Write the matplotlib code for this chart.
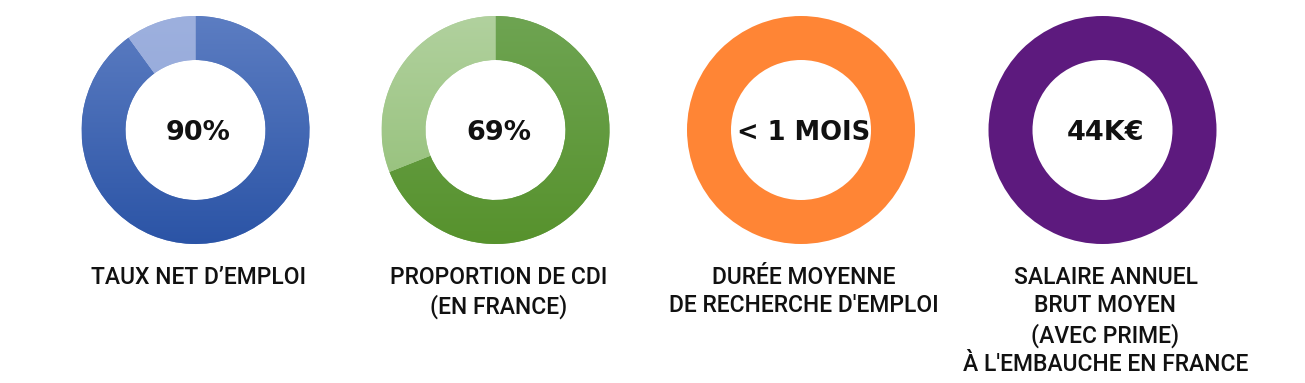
import matplotlib
matplotlib.use("Agg")
import matplotlib.pyplot as plt
import numpy as np
from matplotlib.colors import LinearSegmentedColormap

W, H = 1305, 383

# ---- data ----
centers_x = [195.5, 495.5, 801.0, 1102.5]
values = [[90, 10], [69, 31], [100], [100]]
center_texts = ["90%", "69%", "< 1 MOIS", "44K€"]
labels = ["TAUX NET D’EMPLOI",
          "PROPORTION DE CDI\n(EN FRANCE)",
          "DURÉE MOYENNE\nDE RECHERCHE D'EMPLOI",
          "SALAIRE ANNUEL\nBRUT MOYEN\n(AVEC PRIME)\nÀ L'EMBAUCHE EN FRANCE"]
# gradient (top, bottom) colours per wedge
grad_colors = [[("#5c7dc2", "#2b54a6"), ("#9db0de", "#8ea3d6")],
               [("#6ea452", "#57922d"), ("#b1d19e", "#8fbd72")],
               [("#ff8535", "#ff8535")],
               [("#5d1a7e", "#5d1a7e")]]

fig = plt.figure(figsize=(W / 100, H / 100), dpi=100)
ax = fig.add_axes([0, 0, 1, 1])

R_OUT = 114
R_W = 44
CY = H - 130

label_font = ['Roboto', 'DejaVu Sans']
num_font = ['DejaVu Sans']

for cx, vals, ctext, lab, gcols in zip(centers_x, values, center_texts, labels, grad_colors):
    wedges, _ = ax.pie(vals, colors=[g[0] for g in gcols], startangle=90,
                       counterclock=False, radius=R_OUT, center=(cx, CY),
                       wedgeprops=dict(width=R_W, linewidth=0), frame=True)
    for wdg, (ctop, cbot) in zip(wedges, gcols):
        if ctop != cbot:
            cmap = LinearSegmentedColormap.from_list("g", [cbot, ctop])
            grad = np.linspace(0, 1, 256).reshape(-1, 1)
            im = ax.imshow(grad, cmap=cmap, origin="lower", aspect="auto",
                           extent=(cx - R_OUT, cx + R_OUT, CY - R_OUT, CY + R_OUT),
                           zorder=wdg.get_zorder() + 0.1)
            im.set_clip_path(wdg)
    ax.text(cx + 3, H - 133, ctext, ha="center", va="center",
            fontsize=18.5 if len(ctext) > 5 else 19.5,
            fontweight="bold", family=num_font, color="#111111")
    ax.text(cx + 3, H - 266, lab, ha="center", va="top", fontsize=16.5,
            family=label_font, fontweight="medium", color="#111111",
            linespacing=1.3)

ax.set_xlim(0, W)
ax.set_ylim(0, H)
ax.set_aspect("equal")
ax.axis("off")

fig.savefig("out.png", dpi=100, facecolor="white")
